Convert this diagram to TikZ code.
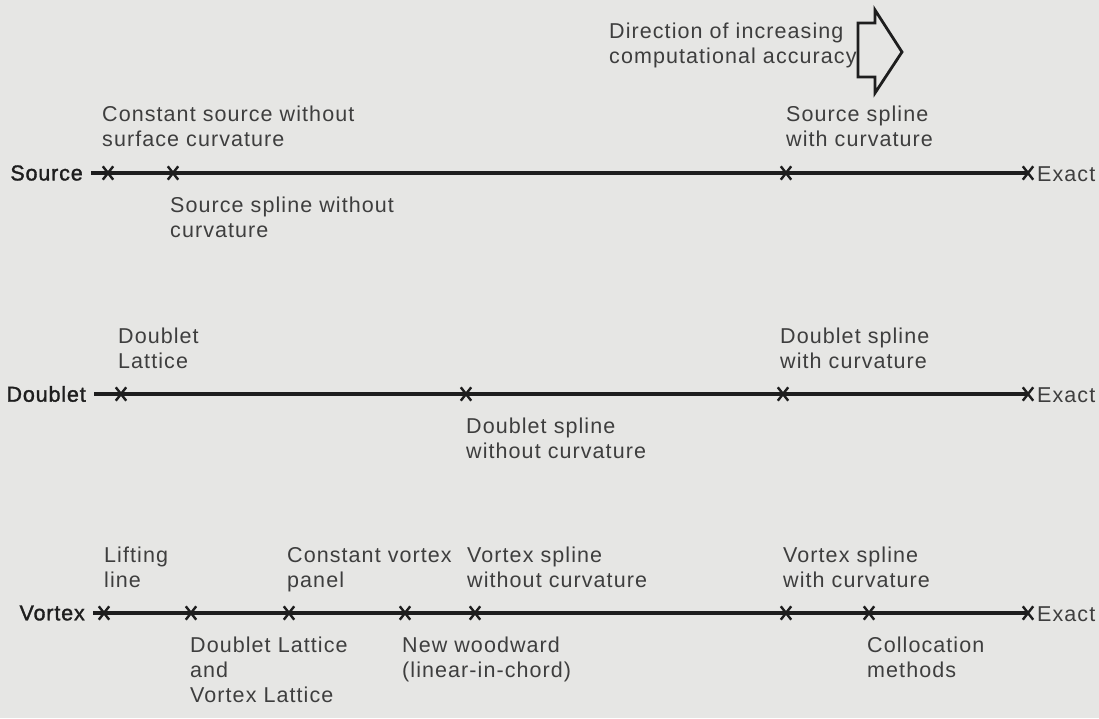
\documentclass[tikz,border=0pt]{standalone}
\usepackage{fontspec}
\setmainfont{Liberation Sans}[LetterSpace=5]
\newfontfamily\rowfont{Liberation Sans}[LetterSpace=4, FakeBold=1.5]
\usetikzlibrary{shapes.misc}
\definecolor{bg}{RGB}{230,230,228}
\definecolor{ink}{RGB}{30,30,30}
\definecolor{txt}{RGB}{62,62,62}
\begin{document}
\begin{tikzpicture}[x=1pt,y=-1pt,
  lbl/.style={anchor=north west, inner sep=0pt, align=left, font=\fontsize{21.5}{25}\selectfont, text=txt},
  rowname/.style={anchor=east, inner sep=0pt, font=\rowfont\fontsize{21.5}{25}\selectfont, text=ink},
  exactlbl/.style={anchor=west, inner sep=0pt, font=\fontsize{21.5}{25}\selectfont, text=txt},
  xmark/.style={cross out, draw=ink, line width=2.4pt, minimum width=8pt, minimum height=11pt, inner sep=0pt},
  axisline/.style={draw=ink, line width=3.2pt, shorten <=8pt},
  bigarrow/.style={draw=ink, line width=2.8pt, line join=miter}
]
\fill[bg] (0,0) rectangle (1099,718);
\useasboundingbox (0,0) rectangle (1099,718);

% direction indicator
\node[lbl] (dir) at (609,23) {Direction of increasing\\computational accuracy};
\draw[bigarrow] (858,23) -- (875,23) -- (875,10) -- (902,52) -- (875,93) -- (875,77) -- (858,77) -- cycle;

% ---------------- Source row ----------------
\node[rowname] (src) at (83,173) {Source};
\node[xmark] (s1) at (108,173) {};
\node[xmark] (s2) at (173,173) {};
\node[xmark] (s3) at (786,173) {};
\node[xmark] (s4) at (1028,173) {};
\node[exactlbl] (sx) at (1037,174) {Exact};
\draw[axisline] (src.east) -- (s4.center);
\node[lbl] (sl1) at (102,106) {Constant source without\\surface curvature};
\node[lbl] (sl2) at (170,197) {Source spline without\\curvature};
\node[lbl] (sl3) at (786,106) {Source spline\\with curvature};

% ---------------- Doublet row ----------------
\node[rowname] (dbl) at (86,394) {Doublet};
\node[xmark] (d1) at (121,394) {};
\node[xmark] (d2) at (466,394) {};
\node[xmark] (d3) at (783,394) {};
\node[xmark] (d4) at (1028,394) {};
\node[exactlbl] (dx) at (1037,395) {Exact};
\draw[axisline] (dbl.east) -- (d4.center);
\node[lbl] (dl1) at (118,328) {Doublet\\Lattice};
\node[lbl] (dl2) at (466,418) {Doublet spline\\without curvature};
\node[lbl] (dl3) at (780,328) {Doublet spline\\with curvature};

% ---------------- Vortex row ----------------
\node[rowname] (vtx) at (85,613) {Vortex};
\node[xmark] (v1) at (104,613) {};
\node[xmark] (v2) at (191,613) {};
\node[xmark] (v3) at (289,613) {};
\node[xmark] (v4) at (405,613) {};
\node[xmark] (v5) at (475,613) {};
\node[xmark] (v6) at (786,613) {};
\node[xmark] (v7) at (869,613) {};
\node[xmark] (v8) at (1028,613) {};
\node[exactlbl] (vx) at (1037,614) {Exact};
\draw[axisline] (vtx.east) -- (v8.center);
\node[lbl] (vl1) at (104,547) {Lifting\\line};
\node[lbl] (vl2) at (287,547) {Constant vortex\\panel};
\node[lbl] (vl3) at (467,547) {Vortex spline\\without curvature};
\node[lbl] (vl4) at (783,547) {Vortex spline\\with curvature};
\node[lbl] (vl5) at (190,637) {Doublet Lattice\\and\\Vortex Lattice};
\node[lbl] (vl6) at (402,637) {New woodward\\(linear-in-chord)};
\node[lbl] (vl7) at (867,637) {Collocation\\methods};
\end{tikzpicture}
\end{document}
